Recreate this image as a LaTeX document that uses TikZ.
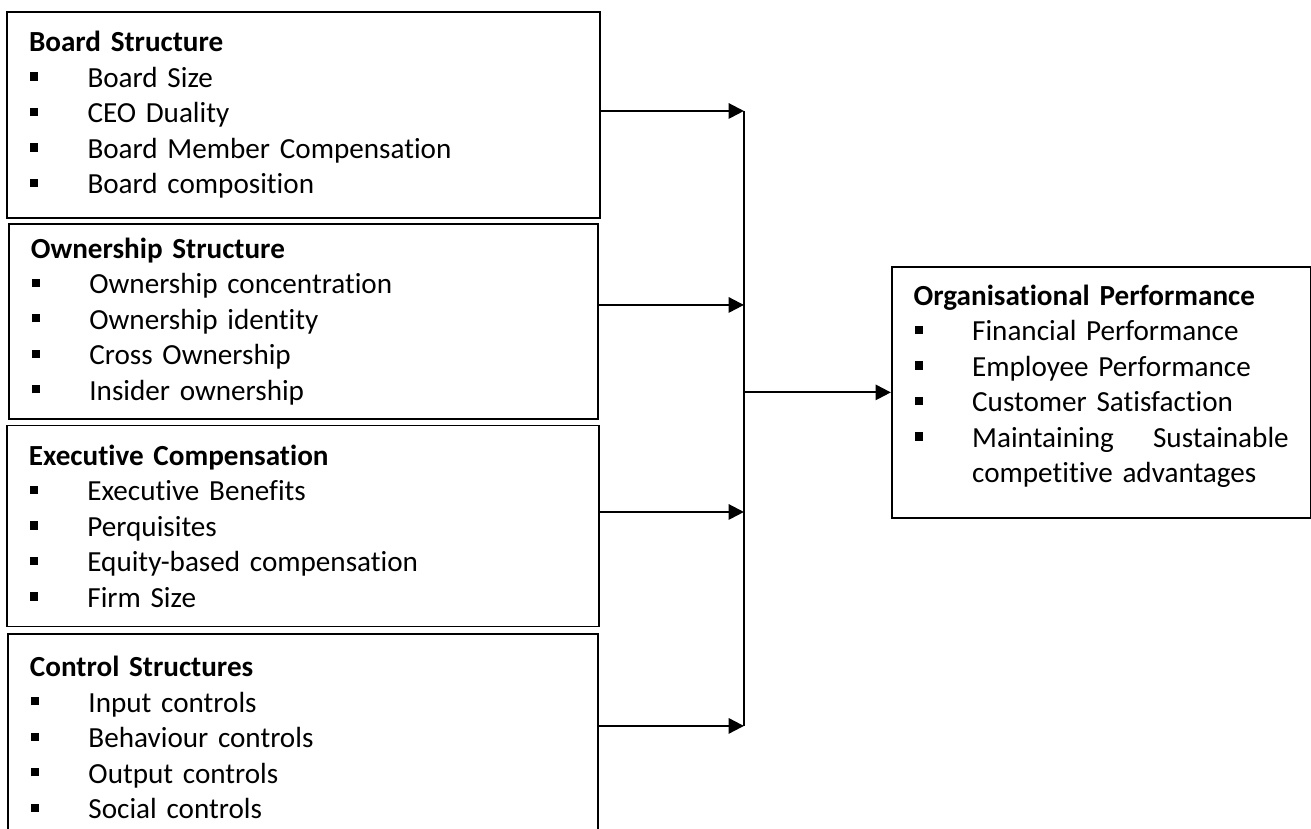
\documentclass[tikz,border=0pt]{standalone}
\usepackage{fontspec}
\setmainfont{Carlito}[Ligatures=NoCommon]
\usepackage{tikz}
\usetikzlibrary{arrows.meta,positioning}
\tikzset{
  factorbox/.style={rectangle,draw=black,line width=0.7pt,anchor=north west,align=left,
    inner xsep=0.29cm,inner ysep=0pt,font=\fontsize{11pt}{13.4pt}\selectfont},
  arr/.style={-{Triangle[length=5.8pt,width=5.8pt]},line width=0.8pt,color=black},
  busline/.style={line width=0.45pt,color=black}
}
\newcommand{\sqitem}[1]{\makebox[0.776cm][l]{\hspace{0.4pt}\rule[2.5pt]{3.1pt}{3.1pt}}#1}

\begin{document}
\begin{tikzpicture}
  \useasboundingbox (0,0) rectangle (17.39,-10.995);

  \node[factorbox,minimum width=7.865cm,minimum height=2.732cm,text width=7.28cm] (board) at (0.08,-0.146)
    {\textbf{Board Structure}\\
     \sqitem{Board Size}\\
     \sqitem{CEO Duality}\\
     \sqitem{Board Member Compensation}\\
     \sqitem{Board composition}};

  \node[factorbox,below=0.053cm of board.south west,anchor=north west,xshift=0.026cm,
        minimum width=7.812cm,minimum height=2.586cm,text width=7.23cm] (owner)
    {\textbf{Ownership Structure}\\
     \sqitem{Ownership concentration}\\
     \sqitem{Ownership identity}\\
     \sqitem{Cross Ownership}\\
     \sqitem{Insider ownership}};

  \node[factorbox,below=0.066cm of owner.south west,anchor=north west,xshift=-0.026cm,
        minimum width=7.852cm,minimum height=2.666cm,text width=7.27cm] (exec)
    {\textbf{Executive Compensation}\\
     \sqitem{Executive Benefits}\\
     \sqitem{Perquisites}\\
     \sqitem{Equity-based compensation}\\
     \sqitem{Firm Size}};

  \node[factorbox,below=0.08cm of exec.south west,anchor=north west,xshift=0.013cm,
        minimum width=7.825cm,minimum height=2.732cm,text width=7.24cm] (control)
    {\textbf{Control Structures}\\
     \sqitem{Input controls}\\
     \sqitem{Behaviour controls}\\
     \sqitem{Output controls}\\
     \sqitem{Social controls}};

  \node[factorbox,minimum width=5.557cm,minimum height=3.329cm,text width=4.977cm] (perf) at (11.817,-3.528)
    {\textbf{Organisational Performance}\\
     \sqitem{Financial Performance}\\
     \sqitem{Employee Performance}\\
     \sqitem{Customer Satisfaction}\\
     \sqitem{\parbox[t]{4.2cm}{Maintaining\hfill Sustainable\\competitive advantages\rule[-6.5pt]{0pt}{1pt}}}};

  \coordinate (busA) at (9.868,-1.472);
  \coordinate (busB) at (9.868,-4.045);
  \coordinate (busC) at (9.868,-6.791);
  \coordinate (busD) at (9.868,-9.629);

  \draw[busline] (busA) -- (busD);
  \draw[arr] (board.east |- busA) -- (busA);
  \draw[arr] (owner.east |- busB) -- (busB);
  \draw[arr] (exec.east |- busC) -- (busC);
  \draw[arr] (control.east |- busD) -- (busD);
  \draw[arr] (perf.west -| busA) -- (perf.west);
\end{tikzpicture}
\end{document}
